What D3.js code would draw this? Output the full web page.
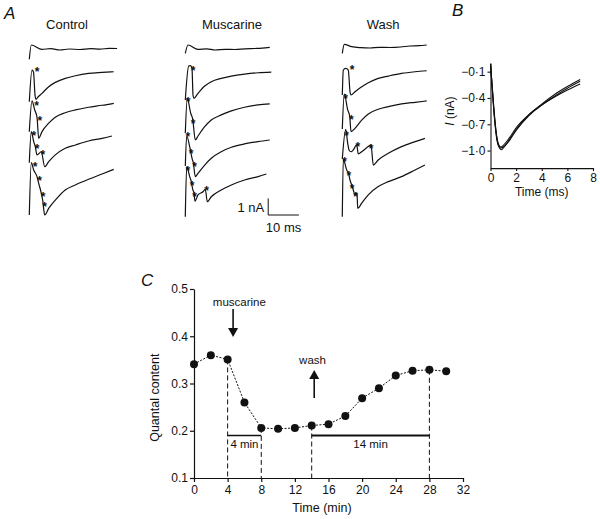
<!DOCTYPE html>
<html><head><meta charset="utf-8">
<script src="https://cdn.jsdelivr.net/npm/d3@7"></script>
<style>
body{margin:0;background:#fff;}
text{font-family:"Liberation Sans",Arial,Helvetica,sans-serif;fill:#111;}
</style>
</head><body>
<script>
// ---------- Panel A data (t in ms, v in nA relative to row baseline) ----------
const conditions = ["Control", "Muscarine", "Wash"];
const rowOffsets = [0, -1.4, -3.3, -5.3, -7.3];

const controlTraces = [
  [[0,-0.62],[0.65,0.24],[4.1,-0.02],[7,0.02],[10,-0.06],[13,0.0],[16.5,-0.03],[20,0.02],[23,-0.01],[26,0.04],[28.6,0.03]],
  [[0,-1.78],[0.88,0.13],[1.37,0.01],[1.86,-1.37],[2.18,-1.63],[2.83,-1.49],[4.14,-1.27],[6.32,-0.87],[8.47,-0.61],[11.7,-0.37],[15,-0.21],[19.3,-0.07],[23.7,-0.01],[27.5,0.03]],
  [[0,-1.68],[0.88,0.17],[1.76,-0.37],[2.51,-0.81],[3.06,-2.08],[4.14,-1.68],[6.32,-1.17],[8.47,-0.81],[11.7,-0.54],[15,-0.37],[19.3,-0.21],[23.7,-0.09],[27.5,0.03]],
  [[0,-1.55],[0.65,0.32],[1.43,-0.28],[1.95,-0.58],[2.51,-1.08],[3.91,-0.89],[5.02,-1.79],[6.32,-1.49],[8.47,-1.08],[11.7,-0.68],[15,-0.48],[19.3,-0.24],[23.7,-0.08],[26.9,0.06]],
  [[0,-2.7],[0.65,0.45],[1.43,0.01],[2.51,-0.39],[3.06,-0.79],[3.91,-1.39],[4.36,-1.8],[5.02,-2.7],[6.32,-2.3],[8.47,-1.8],[11.7,-1.19],[15,-0.89],[19.3,-0.55],[23.7,-0.23],[27.5,0.05]]
];
const muscarineTraces = [
  [[0,-0.26],[0.88,0.24],[4.14,-0.02],[7,0.01],[9.7,-0.06],[13,-0.02],[16.2,-0.03],[19.5,0.01],[22.7,0.03],[25,0.05],[27.5,0.1]],
  [[0,-1.67],[1.1,0.37],[1.69,0.4],[2.18,0.25],[2.51,-1.37],[2.83,-1.57],[4.14,-1.27],[6.32,-0.83],[8.47,-0.57],[11.7,-0.37],[15,-0.23],[19.3,-0.11],[23.7,-0.03],[28,0.01]],
  [[0,-1.76],[0.65,0.33],[1.76,-0.57],[2.41,-0.93],[3.26,-2.18],[4.14,-1.94],[6.32,-1.38],[8.47,-0.98],[11.7,-0.67],[15,-0.43],[19.3,-0.21],[23.7,-0.07],[27.5,-0.01]],
  [[0,-1.75],[0.46,0.06],[1.43,-0.58],[1.76,-0.89],[2.18,-1.28],[2.61,-1.55],[3.26,-2.39],[4.14,-2.19],[6.32,-1.69],[8.47,-1.28],[11.7,-0.89],[15,-0.62],[19.3,-0.42],[23.7,-0.28],[27.5,-0.18]],
  [[0,-2.8],[0.46,0.21],[1.43,-0.39],[1.95,-0.69],[2.41,-1.15],[2.83,-1.39],[3.16,-1.86],[4.14,-1.49],[5.77,-1.3],[6.51,-1.15],[7.17,-1.9],[8.47,-1.6],[11.7,-1.19],[15,-0.89],[19.3,-0.59],[23.7,-0.39],[26.4,-0.23]]
];
const washTraces = [
  [[0,-0.26],[0.65,0.28],[3.06,0.14],[6,0.08],[9,0.06],[12,0.1],[15.5,0.09],[19,0.12],[22,0.18],[25,0.2],[27.5,0.24]],
  [[0,-1.37],[0.33,0.13],[1.11,0.23],[1.95,0.13],[2.51,-1.17],[2.83,-1.37],[4.14,-1.17],[6.32,-0.87],[8.47,-0.63],[11.7,-0.37],[15,-0.23],[19.3,-0.07],[23.7,0.03],[27.5,0.09]],
  [[0,-1.52],[0.65,0.59],[1.76,-0.37],[2.41,-0.73],[2.83,-1.68],[4.14,-1.48],[6.32,-0.98],[8.47,-0.61],[11.7,-0.33],[15,-0.17],[19.3,-0.01],[23.7,0.09],[27.5,0.17]],
  [[0,-1.33],[1.11,0.46],[1.76,-0.38],[2.18,-0.78],[2.83,-0.89],[3.58,-0.78],[4.69,-0.48],[5.21,-1.02],[6.32,-0.89],[8.47,-0.58],[9.35,-0.48],[10.1,-1.69],[11.7,-1.39],[15,-0.98],[19.3,-0.58],[23.7,-0.28],[26.9,-0.08]],
  [[0,-2.8],[0.33,0.66],[1.43,0.01],[1.95,-0.15],[2.51,-0.59],[3.06,-0.89],[3.58,-1.19],[4.14,-1.48],[4.79,-1.36],[5.02,-2.3],[6.32,-1.99],[8.47,-1.49],[11.7,-0.99],[15,-0.69],[19.3,-0.39],[23.7,0.01],[26.9,0.31]]
];
// asterisks: [row, t, v]
const controlStars = [[1,2.41,0.19],[2,2.18,0.03],[2,3.26,-0.84],[3,1.3,0.26],[3,2.41,-0.54],[3,4.23,-0.92],[4,1.76,0.36],[4,3.16,-0.49],[4,4.36,-1.43],[4,4.79,-2.04]];
const muscarineStars = [[1,2.41,0.23],[2,0.78,0.29],[2,2.41,-1.04],[3,0.65,0.16],[3,1.76,-0.83],[3,2.83,-1.65],[4,0.65,0.15],[4,2.08,-0.75],[4,2.83,-1.43],[4,6.74,-1.09]];
const washStars = [[1,3.06,0.33],[2,0.88,0.47],[2,2.74,-0.78],[3,1.21,0.26],[3,4.89,-0.42],[3,9.25,-0.54],[4,0.55,0.66],[4,1.95,-0.19],[4,3.06,-0.95],[4,4.14,-1.43]];

// ---------- Panel B data (ms, nA) ----------
const bCurve1 = [[0,-0.02],[0.1,-0.22],[0.3,-0.62],[0.5,-0.88],[0.7,-0.97],[0.85,-0.99],[1.0,-0.97],[1.5,-0.87],[2,-0.76],[3,-0.59],[4,-0.47],[5,-0.36],[6,-0.27],[7,-0.19]];
const bCurve2 = [[0,-0.03],[0.1,-0.2],[0.3,-0.58],[0.5,-0.85],[0.7,-0.95],[0.8,-0.96],[1.0,-0.94],[1.5,-0.85],[2,-0.74],[3,-0.59],[4,-0.48],[5,-0.38],[6,-0.29],[7,-0.21]];
const bCurve3 = [[0,-0.01],[0.1,-0.21],[0.3,-0.6],[0.5,-0.86],[0.7,-0.96],[0.8,-0.97],[1.0,-0.96],[1.5,-0.88],[2,-0.77],[3,-0.6],[4,-0.48],[5,-0.39],[6,-0.31],[7,-0.24]];
const bXTicks = [0,2,4,6,8];
const bYTicks = [-0.1,-0.4,-0.7,-1.0];

// ---------- Panel C data ----------
const cTime = [0,2,4,6,8,10,12,14,16,18,20,22,24,26,28,30];
const cQuantal = [0.341,0.360,0.351,0.260,0.206,0.204,0.206,0.211,0.214,0.231,0.269,0.290,0.317,0.327,0.329,0.326];
const cXTicks = [0,4,8,12,16,20,24,28,32];
const cYTicks = [0.1,0.2,0.3,0.4,0.5];
const cDashedTimes = [4,8,14,28];
const cBars = [{from:4,to:8,y:0.19,label:"4 min",w:1.3},{from:14,to:28,y:0.19,label:"14 min",w:1.8}];

// ---------- Drawing ----------
const svg = d3.select("body").append("svg").attr("width",600).attr("height",519);
const ink = "#111";

// Panel A
const traceStarts = [29.3, 185.3, 342.3];
const yA = d3.scaleLinear().domain([0,-1]).range([49, 65.6]);
const allTraces = [controlTraces, muscarineTraces, washTraces];
const allStars = [controlStars, muscarineStars, washStars];
const titleX = [67, 232, 383];

svg.append("text").attr("x",4).attr("y",19).attr("font-size",17).attr("font-style","italic").text("A");

conditions.forEach((c,ci)=>{
  const x = d3.scaleLinear().domain([0,10]).range([traceStarts[ci], traceStarts[ci]+30.7]);
  svg.append("text").attr("x",titleX[ci]).attr("y",28.5).attr("font-size",13).attr("text-anchor","middle").text(c);
  const line = d3.line().x(d=>x(d[0])).curve(d3.curveMonotoneX);
  allTraces[ci].forEach((tr,ri)=>{
    svg.append("path").attr("d", line.y(d=>yA(rowOffsets[ri]+d[1]))(tr))
      .attr("fill","none").attr("stroke",ink).attr("stroke-width",1.2).attr("stroke-linejoin","round");
  });
  allStars[ci].forEach(s=>{
    svg.append("text").attr("x",x(s[1])+0.5).attr("y",yA(rowOffsets[s[0]]+s[2])+7)
      .attr("font-size",12).attr("font-weight","bold").attr("text-anchor","middle").text("*");
  });
  if(ci===1){
    // scale bar: 10 ms x 1 nA
    const t0 = 27, v0 = -10;
    svg.append("path").attr("d", `M${x(t0)},${yA(v0+1)}V${yA(v0)}H${x(t0+10)}`)
      .attr("fill","none").attr("stroke",ink).attr("stroke-width",1);
    svg.append("text").attr("x",x(t0)-4).attr("y",yA(v0+0.5)+5).attr("font-size",13).attr("text-anchor","end").text("1 nA");
    svg.append("text").attr("x",x(t0+5)).attr("y",yA(v0)+17).attr("font-size",13).attr("text-anchor","middle").text("10 ms");
  }
});

// Panel B
const xB = d3.scaleLinear().domain([0,8]).range([490.5,593]);
const yB = d3.scaleLinear().domain([0,-1.2]).range([62.9,168.1]);
svg.append("text").attr("x",452).attr("y",16).attr("font-size",17).attr("font-style","italic").text("B");
const fmtB = d => "\u2212" + Math.abs(d).toFixed(1).replace(".","\u00b7");
const gBy = svg.append("g").attr("transform",`translate(${xB(0)},0)`)
  .call(d3.axisLeft(yB).tickValues(bYTicks).tickFormat(fmtB).tickSize(3).tickPadding(2).tickSizeOuter(0));
const gBx = svg.append("g").attr("transform",`translate(0,${yB(-1.2)})`)
  .call(d3.axisBottom(xB).tickValues(bXTicks).tickSize(3).tickPadding(2).tickSizeOuter(0));
[gBy,gBx].forEach(g=>{
  g.selectAll("path,line").attr("stroke",ink).attr("stroke-width",1.1);
  g.selectAll("text").attr("font-size",12).attr("fill",ink).attr("font-family","Liberation Sans, Arial, sans-serif");
});
svg.append("text").attr("x",xB(4)).attr("y",196).attr("font-size",12).attr("text-anchor","middle").text("Time (ms)");
const tI = svg.append("text").attr("transform",`translate(454,${yB(-0.55)}) rotate(-90)`).attr("font-size",12).attr("text-anchor","middle");
tI.append("tspan").attr("font-style","italic").text("I");
tI.append("tspan").text(" (nA)");
const lineB = d3.line().x(d=>xB(d[0])).y(d=>yB(d[1])).curve(d3.curveMonotoneX);
[bCurve1,bCurve2,bCurve3].forEach(c=>{
  svg.append("path").attr("d",lineB(c)).attr("fill","none").attr("stroke",ink).attr("stroke-width",1.1);
});

// Panel C
const xC = d3.scaleLinear().domain([0,32]).range([194,463]);
const yC = d3.scaleLinear().domain([0.1,0.5]).range([478,289]);
svg.append("text").attr("x",141).attr("y",286).attr("font-size",17).attr("font-style","italic").text("C");
const gCy = svg.append("g").attr("transform",`translate(${xC(0)},0)`)
  .call(d3.axisLeft(yC).tickValues(cYTicks).tickFormat(d3.format(".1f")).tickSize(4).tickPadding(2).tickSizeOuter(0));
const gCx = svg.append("g").attr("transform",`translate(0,${yC(0.1)})`)
  .call(d3.axisBottom(xC).tickValues(cXTicks).tickSize(4).tickPadding(3).tickSizeOuter(0));
[gCy,gCx].forEach(g=>{
  g.selectAll("path,line").attr("stroke",ink).attr("stroke-width",1.2);
  g.selectAll("text").attr("font-size",12).attr("fill",ink).attr("font-family","Liberation Sans, Arial, sans-serif");
});
svg.append("text").attr("x",322).attr("y",512).attr("font-size",12.5).attr("text-anchor","middle").text("Time (min)");
svg.append("text").attr("transform",`translate(159,${yC(0.27)}) rotate(-90)`).attr("font-size",12.5).attr("text-anchor","middle").text("Quantal content");

// dashed verticals
cDashedTimes.forEach(t=>{
  const i = cTime.indexOf(t);
  svg.append("line").attr("x1",xC(t)).attr("x2",xC(t)).attr("y1",yC(cQuantal[i])).attr("y2",yC(0.1))
    .attr("stroke",ink).attr("stroke-width",1).attr("stroke-dasharray","5,3");
});
// bars
cBars.forEach(b=>{
  svg.append("line").attr("x1",xC(b.from)).attr("x2",xC(b.to)).attr("y1",yC(b.y)).attr("y2",yC(b.y))
    .attr("stroke",ink).attr("stroke-width",b.w);
  svg.append("text").attr("x",xC((b.from+b.to)/2)).attr("y",yC(b.y)+13).attr("font-size",11.5).attr("text-anchor","middle").text(b.label);
});
// data line + points
const pts = cTime.map((t,i)=>[t,cQuantal[i]]);
svg.append("path").attr("d", d3.line().x(d=>xC(d[0])).y(d=>yC(d[1]))(pts))
  .attr("fill","none").attr("stroke",ink).attr("stroke-width",1).attr("stroke-dasharray","2,1.5");
svg.selectAll("circle.pt").data(pts).join("circle").attr("class","pt")
  .attr("cx",d=>xC(d[0])).attr("cy",d=>yC(d[1])).attr("r",4).attr("fill",ink);

// arrows
function arrow(x, yTail, yTip){
  const dir = yTip > yTail ? 1 : -1;
  svg.append("line").attr("x1",x).attr("x2",x).attr("y1",yTail).attr("y2",yTip - dir*8).attr("stroke",ink).attr("stroke-width",1.6);
  svg.append("path").attr("d",`M${x-5},${yTip-dir*9}L${x+5},${yTip-dir*9}L${x},${yTip}Z`).attr("fill",ink);
}
arrow(xC(4.65), 309, 337);
svg.append("text").attr("x",xC(5.4)).attr("y",306).attr("font-size",11.5).attr("text-anchor","middle").text("muscarine");
arrow(xC(14.3), 398, 370);
svg.append("text").attr("x",xC(14.1)).attr("y",364).attr("font-size",11.5).attr("text-anchor","middle").text("wash");
</script>
</body></html>
